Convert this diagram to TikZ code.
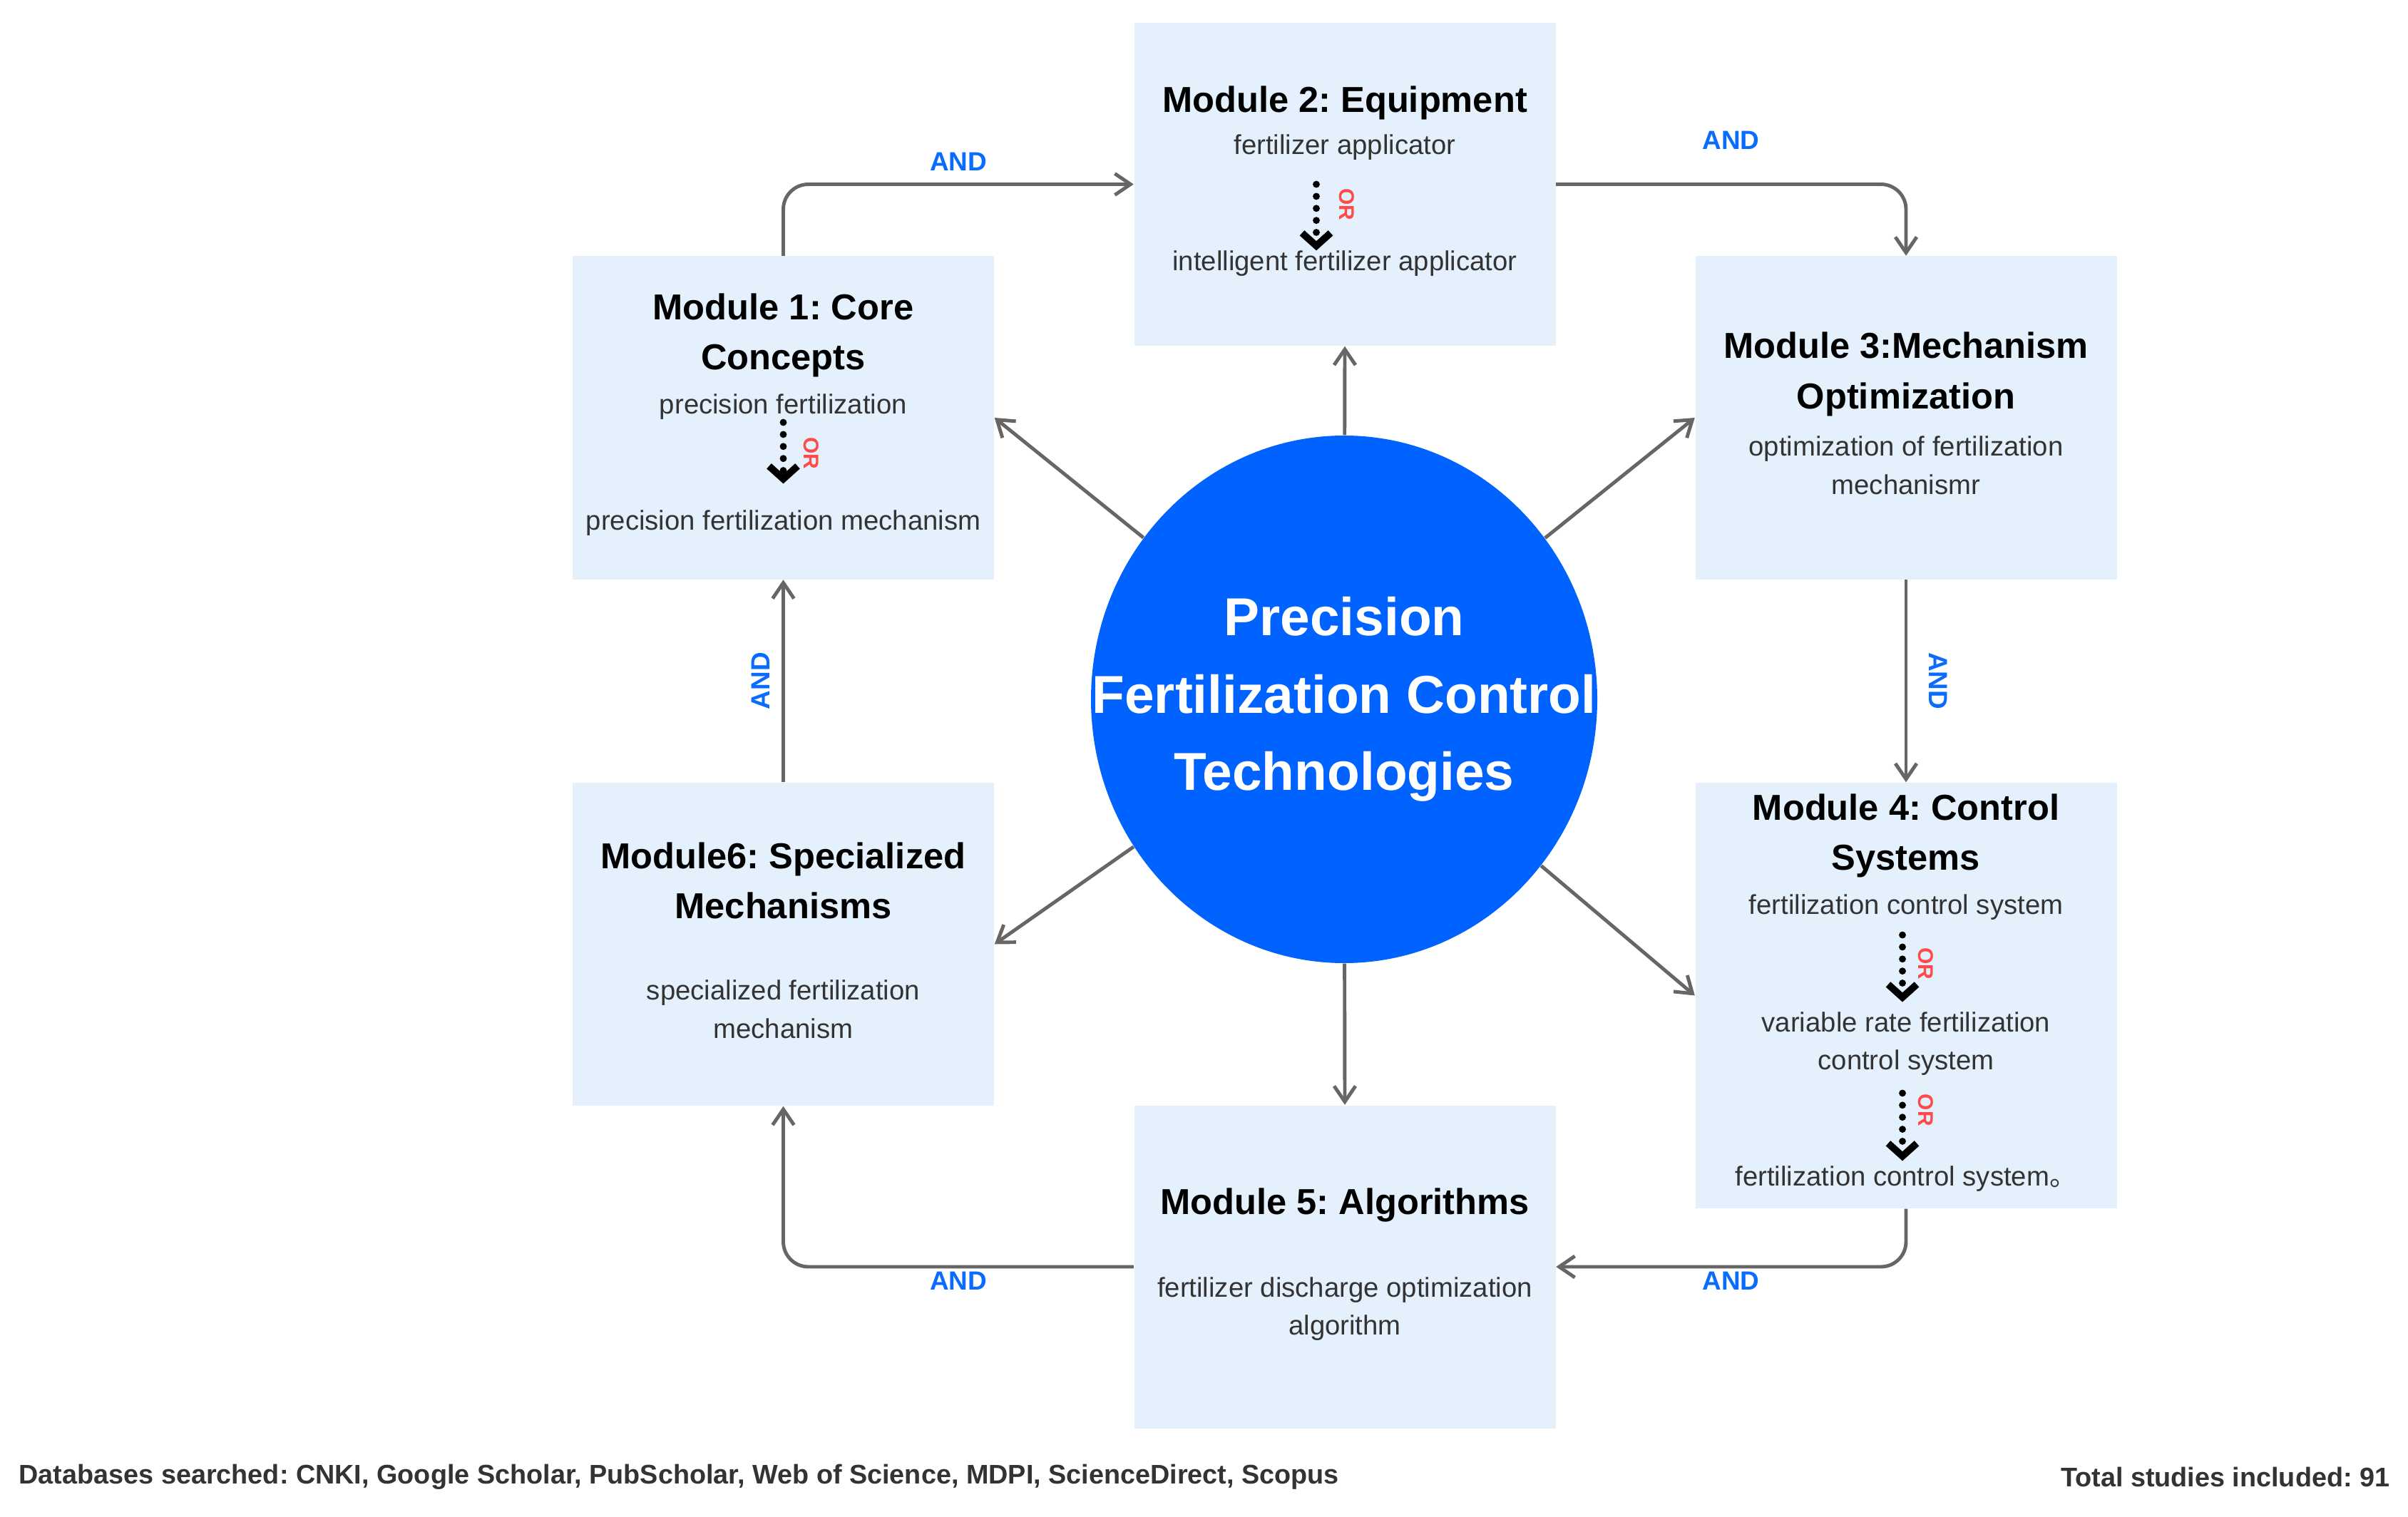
\documentclass[tikz,border=0pt]{standalone}
\usepackage{fontspec}
\setmainfont{Liberation Sans}
\newfontfamily\cjk{Noto Sans CJK SC}
\usetikzlibrary{arrows.meta,shapes.geometric}
\frenchspacing

\definecolor{boxfill}{HTML}{E4F1FD}
\definecolor{hubblue}{HTML}{0062FF}
\definecolor{andblue}{HTML}{0A6CFF}
\definecolor{orred}{HTML}{FF4A4A}
\definecolor{linkgray}{HTML}{666666}
\definecolor{bodygray}{HTML}{333333}

\tikzset{
  module/.style={fill=boxfill, minimum width=5.91cm, minimum height=4.53cm, inner sep=0pt},
  modtitle/.style={font=\fontsize{14.4}{20}\selectfont\bfseries, align=center, inner sep=0pt},
  modtext/.style={font=\fontsize{10.9}{15.3}\selectfont, text=bodygray, align=center, inner sep=0pt},
  hub/.style={ellipse, fill=hubblue, minimum width=7.1cm, minimum height=7.4cm, inner sep=0pt},
  hubtext/.style={font=\fontsize{21.3}{30.9}\selectfont\bfseries, text=white, align=center, inner sep=0pt},
  link/.style={draw=linkgray, line width=1.4pt, rounded corners=10pt,
    -{Straight Barb[length=2.2mm,width=3mm]}},
  andlabel/.style={font=\fontsize{10.5}{12}\selectfont\bfseries, text=andblue, inner sep=0pt},
  orlink/.style={line width=2.8pt, line cap=round, dash pattern=on 0pt off 4.8pt,
    -{Straight Barb[length=1.8mm,width=4mm]}},
  orlabel/.style={font=\fontsize{8.5}{9}\selectfont\bfseries, text=orred, inner sep=0pt, rotate=-90},
  footer/.style={font=\fontsize{10.75}{12}\selectfont\bfseries, text=bodygray, inner sep=0pt},
}

\begin{document}
\begin{tikzpicture}
  \useasboundingbox (0,0) rectangle (33.77,-21.28);

  \node[module] (m2) at (18.86,-2.585) {};
  \node[module] (m1) at (10.985,-5.86) {};
  \node[module] (m3) at (26.73,-5.86) {};
  \node[module] (m6) at (10.985,-13.245) {};
  \node[module, minimum height=5.97cm] (m4) at (26.73,-13.965) {};
  \node[module] (m5) at (18.86,-17.77) {};
  \node[hub] (hub) at (18.85,-9.81) {};
  \node[hubtext] (hubtxt) at (hub) {Precision\\Fertilization Control\\Technologies};

  \node[modtitle] (m2t) at (18.86,-1.44) {Module 2: Equipment};
  \node[modtext] (m2a) at (18.86,-2.07) {fertilizer applicator};
  \node[modtext] (m2b) at (18.86,-3.70) {intelligent fertilizer applicator};
  \draw[orlink] ([xshift=-0.4cm,yshift=-0.33cm]m2a.south) -- ([xshift=-0.4cm]m2b.north)
    node[pos=0.3, xshift=0.43cm, orlabel] {OR};

  \node[modtitle] (m1t) at (10.985,-4.705) {Module 1: Core\\Concepts};
  \node[modtext] (m1a) at (10.985,-5.71) {precision fertilization};
  \node[modtext] (m1b) at (10.985,-7.34) {precision fertilization mechanism};
  \draw[orlink] ([yshift=-0.03cm]m1a.south) -- ([yshift=0.37cm]m1b.north)
    node[midway, xshift=0.39cm, orlabel] {OR};

  \node[modtitle] (m3t) at (26.73,-5.25) {Module 3:Mechanism\\Optimization};
  \node[modtext] (m3a) at (26.73,-6.53) {optimization of fertilization\\mechanismr};

  \node[modtitle] (m4t) at (26.73,-11.725) {Module 4: Control\\Systems};
  \node[modtext] (m4a) at (26.73,-12.73) {fertilization control system};
  \node[modtext] (m4b) at (26.73,-14.64) {variable rate fertilization\\control system};
  \node[modtext] (m4c) at (26.73,-16.54) {fertilization control system{\cjk 。}};
  \draw[orlink] ([xshift=-0.05cm,yshift=-0.2cm]m4a.south) -- ([xshift=-0.05cm,yshift=0.13cm]m4b.north)
    node[pos=0.43, xshift=0.33cm, orlabel] {OR};
  \draw[orlink] ([xshift=-0.05cm,yshift=-0.24cm]m4b.south) -- ([xshift=-0.05cm,yshift=0.07cm]m4c.north)
    node[pos=0.25, xshift=0.33cm, orlabel] {OR};

  \node[modtitle] (m6t) at (10.985,-12.355) {Module6: Specialized\\Mechanisms};
  \node[modtext] (m6a) at (10.985,-14.16) {specialized fertilization\\mechanism};

  \node[modtitle] (m5t) at (18.86,-16.91) {Module 5: Algorithms};
  \node[modtext] (m5a) at (18.86,-18.36) {fertilizer discharge optimization\\algorithm};

  \draw[link] (m1.north) |- (m2.west) node[andlabel, pos=0.75, above=0.17cm] {AND};
  \draw[link] (m2.east) -| (m3.north) node[andlabel, pos=0.25, above=0.47cm] {AND};
  \draw[link] (m3.south) -- (m4.north) node[andlabel, midway, xshift=0.45cm, rotate=-90] {AND};
  \draw[link] (m4.south) |- (m5.east) node[andlabel, pos=0.75, below=0.05cm] {AND};
  \draw[link] (m5.west) -| (m6.south) node[andlabel, pos=0.25, below=0.05cm] {AND};
  \draw[link] (m6.north) -- (m1.south) node[andlabel, midway, xshift=-0.32cm, rotate=90] {AND};

  \draw[link] (hub) -- (m2.south);
  \draw[link] (hub) -- (m3.west);
  \draw[link] (hub) -- (m4.west);
  \draw[link] (hub) -- (m5.north);
  \draw[link] (hub) -- (m6.east);
  \draw[link] (hub) -- (m1.east);

  \node[footer, anchor=west] (dbs) at (0.26,-20.72)
    {Databases searched: CNKI, Google Scholar, PubScholar, Web of Science, MDPI, ScienceDirect, Scopus};
  \node[footer, anchor=east] (total) at (33.52,-20.72) {Total studies included: 91};
\end{tikzpicture}
\end{document}
